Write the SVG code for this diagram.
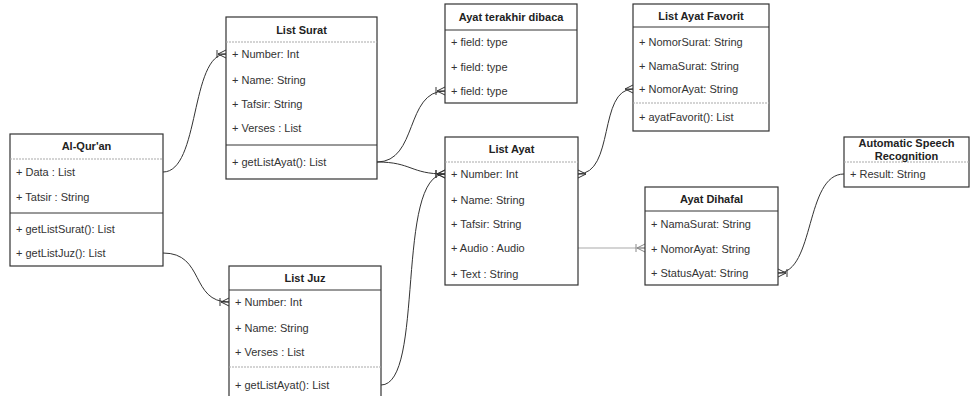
<svg xmlns="http://www.w3.org/2000/svg" width="971" height="396" viewBox="0 0 971 396">
<style>
.box{fill:#fff;stroke:#333;stroke-width:1.2}
.sep{stroke:#333;stroke-width:1}
.sepl{stroke:#aaa;stroke-width:1.2;stroke-dasharray:2 1}
.t{font-family:"Liberation Sans",Arial,sans-serif;font-size:11px;font-weight:bold;fill:#222;text-anchor:middle}
.a{font-family:"Liberation Sans",Arial,sans-serif;font-size:11px;fill:#333}
.c{fill:none;stroke:#333;stroke-width:1}
.cl{fill:none;stroke:#aaa;stroke-width:1.2}
.m{fill:none;stroke:#333;stroke-width:1}
</style>
<defs>
<marker id="one2many" markerUnits="userSpaceOnUse" viewBox="0 0 11 10" refX="11" refY="5" markerWidth="11" markerHeight="10" orient="auto-start-reverse">
<path class="m" d="M3,5 L11,1 M3,5 L11,5 M3,5 L11,9 M2,1 L2,9"/>
</marker>
<marker id="many" markerUnits="userSpaceOnUse" viewBox="0 0 11 10" refX="11" refY="5" markerWidth="11" markerHeight="10" orient="auto-start-reverse">
<path class="m" d="M3,5 L11,1 M3,5 L11,5 M3,5 L11,9"/>
</marker>
<marker id="one2manyL" markerUnits="userSpaceOnUse" viewBox="0 0 11 10" refX="11" refY="5" markerWidth="11" markerHeight="10" orient="auto-start-reverse">
<path d="M3,5 L11,1 M3,5 L11,5 M3,5 L11,9 M2,1 L2,9" fill="none" stroke="#888" stroke-width="1"/>
</marker>
</defs>

<g id="connectors">
<path class="c" d="M163,172 C200,172 190,54 226,54" marker-end="url(#one2many)"/>
<path class="c" d="M163,253 C205,253 190,302 229,302" marker-end="url(#one2many)"/>
<path class="c" d="M377,162 C418,162 405,91 445,91" marker-end="url(#one2many)"/>
<path class="c" d="M377,162 C412,162 410,174 445,174" marker-end="url(#one2many)"/>
<path class="c" d="M381,385 C425,385 395,174 445,174" marker-end="url(#one2many)"/>
<path class="c" d="M578,174 C615,174 598,89 633,89" marker-start="url(#many)" marker-end="url(#many)"/>
<path class="cl" d="M578,248 L645,248" marker-end="url(#one2manyL)"/>
<path class="c" d="M844,174 C805,174 815,273 778,273" marker-end="url(#one2many)"/>
</g>

<g id="alquran">
<rect class="box" x="10" y="134" width="153" height="132"/>
<line class="sepl" x1="10" y1="159" x2="163" y2="159"/>
<line class="sep" x1="10" y1="213" x2="163" y2="213"/>
<text class="t" x="86.5" y="150">Al-Qur'an</text>
<text class="a" x="16" y="176">+ Data : List</text>
<text class="a" x="16" y="201">+ Tatsir : String</text>
<text class="a" x="16" y="233">+ getListSurat(): List</text>
<text class="a" x="16" y="257">+ getListJuz(): List</text>
</g>

<g id="listsurat">
<rect class="box" x="226" y="17" width="151" height="162"/>
<line class="sepl" x1="226" y1="42" x2="377" y2="42"/>
<line class="sep" x1="226" y1="145" x2="377" y2="145"/>
<text class="t" x="301.5" y="34">List Surat</text>
<text class="a" x="232" y="58">+ Number: Int</text>
<text class="a" x="232" y="84">+ Name: String</text>
<text class="a" x="232" y="108">+ Tafsir: String</text>
<text class="a" x="232" y="132">+ Verses : List</text>
<text class="a" x="232" y="166">+ getListAyat(): List</text>
</g>

<g id="ayatterakhir">
<rect class="box" x="445" y="4" width="132" height="99"/>
<line class="sep" x1="445" y1="30" x2="577" y2="30"/>
<text class="t" x="511" y="21">Ayat terakhir dibaca</text>
<text class="a" x="451" y="46">+ field: type</text>
<text class="a" x="451" y="71">+ field: type</text>
<text class="a" x="451" y="95">+ field: type</text>
</g>

<g id="listayatfavorit">
<rect class="box" x="633" y="4" width="136" height="127"/>
<line class="sep" x1="633" y1="27" x2="769" y2="27"/>
<line class="sepl" x1="633" y1="103" x2="769" y2="103"/>
<text class="t" x="701" y="20">List Ayat Favorit</text>
<text class="a" x="639" y="46">+ NomorSurat: String</text>
<text class="a" x="639" y="70">+ NamaSurat: String</text>
<text class="a" x="639" y="93">+ NomorAyat: String</text>
<text class="a" x="639" y="121">+ ayatFavorit(): List</text>
</g>

<g id="listayat">
<rect class="box" x="445" y="137" width="133" height="148"/>
<line class="sepl" x1="445" y1="162" x2="578" y2="162"/>
<text class="t" x="511.5" y="153">List Ayat</text>
<text class="a" x="451" y="178">+ Number: Int</text>
<text class="a" x="451" y="204">+ Name: String</text>
<text class="a" x="451" y="228">+ Tafsir: String</text>
<text class="a" x="451" y="252">+ Audio : Audio</text>
<text class="a" x="451" y="278">+ Text : String</text>
</g>

<g id="asr">
<rect class="box" x="844" y="137" width="125" height="50"/>
<line class="sepl" x1="844" y1="162" x2="969" y2="162"/>
<text class="t" x="906.5" y="147">Automatic Speech</text>
<text class="t" x="906.5" y="160">Recognition</text>
<text class="a" x="850" y="178">+ Result: String</text>
</g>

<g id="ayatdihafal">
<rect class="box" x="645" y="187" width="133" height="98"/>
<line class="sep" x1="645" y1="211" x2="778" y2="211"/>
<text class="t" x="711.5" y="203">Ayat Dihafal</text>
<text class="a" x="651" y="228">+ NamaSurat: String</text>
<text class="a" x="651" y="253">+ NomorAyat: String</text>
<text class="a" x="651" y="277">+ StatusAyat: String</text>
</g>

<g id="listjuz">
<rect class="box" x="229" y="266" width="152" height="132"/>
<line class="sep" x1="229" y1="290" x2="381" y2="290"/>
<line class="sepl" x1="229" y1="367" x2="381" y2="367"/>
<text class="t" x="305" y="282">List Juz</text>
<text class="a" x="235" y="306">+ Number: Int</text>
<text class="a" x="235" y="332">+ Name: String</text>
<text class="a" x="235" y="356">+ Verses : List</text>
<text class="a" x="235" y="389">+ getListAyat(): List</text>
</g>
</svg>
